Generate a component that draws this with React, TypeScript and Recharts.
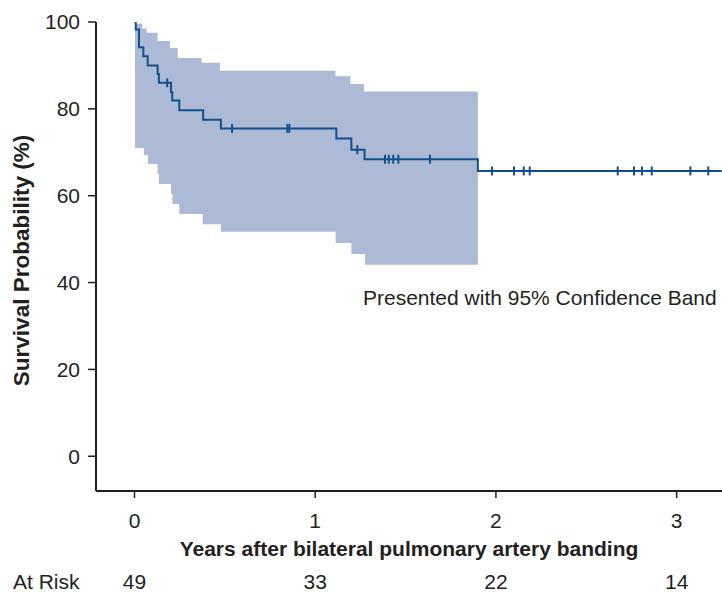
import React from 'react';
import { ComposedChart, Area, Line, Scatter, XAxis, YAxis, Label } from 'recharts';

// ---- data ----
const xTicks = [0, 1, 2, 3];
const yTicks = [0, 20, 40, 60, 80, 100];
const atRisk = [49, 33, 22, 14];

// Kaplan-Meier step changes (years, survival %)
const kmTimes = [0, 0.007, 0.025, 0.049, 0.073, 0.128, 0.135, 0.202, 0.209, 0.248, 0.38, 0.478, 1.117, 1.2, 1.273, 1.9, 3.25];
const kmSurvival = [100, 98.3, 94.2, 92.1, 90.0, 88.0, 86.0, 83.8, 81.9, 79.7, 77.5, 75.5, 73.2, 70.6, 68.4, 65.7, 65.7];

// 95% confidence band (step starts)
const upperTimes = [0.003, 0.043, 0.067, 0.128, 0.196, 0.239, 0.371, 0.472, 1.112, 1.194, 1.27, 1.9];
const upperValues = [99.6, 98.5, 97.5, 95.6, 94.0, 91.7, 90.6, 88.8, 87.5, 85.7, 84.0, 84.0];
const lowerTimes = [0.003, 0.052, 0.075, 0.128, 0.135, 0.202, 0.21, 0.248, 0.377, 0.478, 1.113, 1.2, 1.276, 1.9];
const lowerValues = [71.0, 69.3, 67.3, 65.0, 62.7, 60.4, 58.1, 55.8, 53.4, 51.7, 49.1, 46.6, 44.1, 44.1];

// censored observations (years)
const censorTimes = [0.181, 0.54, 0.846, 0.857, 1.233, 1.386, 1.407, 1.432, 1.46, 1.635, 1.978, 2.1, 2.154, 2.187, 2.674, 2.764, 2.808, 2.862, 3.076, 3.175];

// ---- derived tables ----
const stepValue = (times: number[], values: number[], t: number) => {
  let v = values[0];
  for (let i = 0; i < times.length; i++) if (times[i] <= t + 1e-9) v = values[i];
  return v;
};

const kmData = kmTimes.map((t, i) => ({ t, s: kmSurvival[i] }));
const bandTimes = Array.from(new Set([...upperTimes, ...lowerTimes])).sort((a, b) => a - b);
const bandData = bandTimes.map((t) => ({
  t,
  band: [stepValue(lowerTimes, lowerValues, t), stepValue(upperTimes, upperValues, t)],
}));
const censorData = censorTimes.map((t) => ({ t, s: stepValue(kmTimes, kmSurvival, t) }));

// ---- styles ----
const INK = '#231f20';
const LINE = '#11508b';
const BAND = '#adbad6';
const FONT = '"Liberation Sans", Arial, Helvetica, sans-serif';

const renderXTick = (props: any) => {
  const { x, y, payload } = props;
  const idx = xTicks.indexOf(payload.value);
  return (
    <g>
      <text x={x} y={y + 29.5} textAnchor="middle" fontSize={21} fill={INK} fontFamily={FONT}>
        {payload.value}
      </text>
      <text x={x} y={y + 91} textAnchor="middle" fontSize={21} fill={INK} fontFamily={FONT}>
        {idx >= 0 ? atRisk[idx] : ''}
      </text>
    </g>
  );
};

const renderXLabel = (props: any) => {
  const vb = props.viewBox || { x: 96, y: 491, width: 626, height: 101 };
  return (
    <g>
      <text
        x={vb.x + vb.width / 2}
        y={vb.y + 65}
        textAnchor="middle"
        fontSize={21}
        fontWeight="bold"
        fill={INK}
        fontFamily={FONT}
      >
        Years after bilateral pulmonary artery banding
      </text>
      <text x={13} y={vb.y + 98} fontSize={21} fill={INK} fontFamily={FONT}>
        At Risk
      </text>
      <text x={363} y={305} fontSize={21} fill={INK} fontFamily={FONT}>
        Presented with 95% Confidence Band
      </text>
    </g>
  );
};

const renderYLabel = () => (
  <text
    transform="translate(29, 260.5) rotate(-90)"
    textAnchor="middle"
    fontSize={22.5}
    fontWeight="bold"
    fill={INK}
    fontFamily={FONT}
  >
    Survival Probability (%)
  </text>
);

const CensorMark = (props: any) => {
  const { cx, cy } = props;
  if (cx == null || cy == null) return null;
  return <line x1={cx} x2={cx} y1={cy - 4.5} y2={cy + 4.5} stroke={LINE} strokeWidth={2} />;
};

export default function App() {
  return (
    <div style={{ position: 'absolute', left: 0, top: 0, width: 722, height: 592, background: '#fff' }}>
      <ComposedChart width={722} height={592} margin={{ top: 22, right: 0, bottom: 0, left: 0 }}>
        <XAxis
          xAxisId="t"
          type="number"
          dataKey="t"
          domain={[-0.213, 3.251]}
          allowDataOverflow
          ticks={xTicks}
          interval={0}
          height={101}
          tickSize={7}
          tickMargin={0}
          axisLine={{ stroke: INK, strokeWidth: 2 }}
          tickLine={{ stroke: INK, strokeWidth: 1.5 }}
          tick={renderXTick}
        >
          <Label content={renderXLabel} />
        </XAxis>
        <YAxis
          type="number"
          domain={[-8, 100]}
          allowDataOverflow
          ticks={yTicks}
          interval={0}
          width={96}
          tickSize={8}
          tickMargin={8}
          axisLine={{ stroke: INK, strokeWidth: 2 }}
          tickLine={{ stroke: INK, strokeWidth: 1.5 }}
          tick={{ fontSize: 21, fill: INK, fontFamily: FONT }}
        >
          <Label content={renderYLabel} />
        </YAxis>
        <Area
          xAxisId="t"
          data={bandData}
          dataKey="band"
          type="stepAfter"
          fill={BAND}
          fillOpacity={1}
          stroke="none"
          isAnimationActive={false}
          activeDot={false}
        />
        <Line
          xAxisId="t"
          data={kmData}
          dataKey="s"
          type="stepAfter"
          stroke={LINE}
          strokeWidth={2}
          dot={false}
          activeDot={false}
          isAnimationActive={false}
        />
        <Scatter
          xAxisId="t"
          data={censorData}
          dataKey="s"
          shape={CensorMark}
          isAnimationActive={false}
        />
      </ComposedChart>
    </div>
  );
}
